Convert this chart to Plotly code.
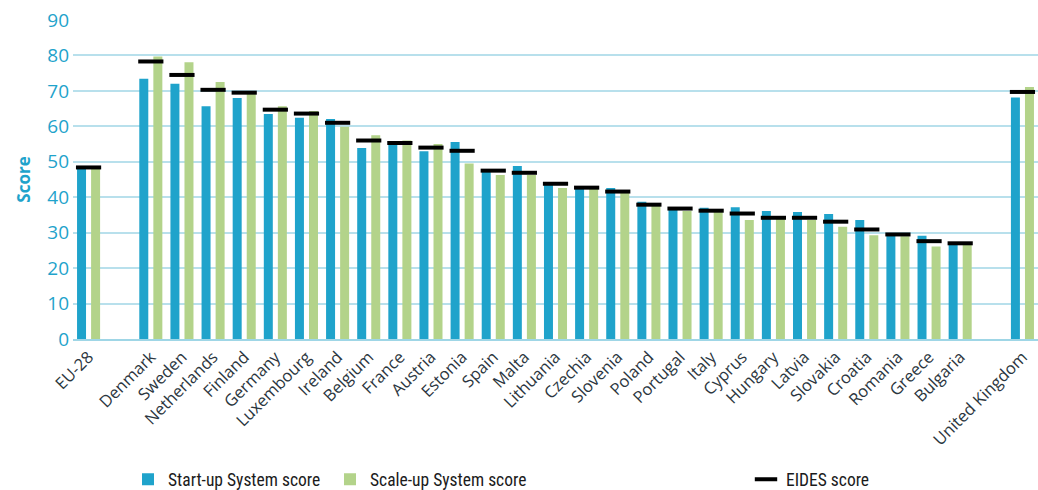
import plotly.graph_objects as go

categories = ["EU-28", " ", "Denmark", "Sweden", "Netherlands", "Finland", "Germany", "Luxembourg",
              "Ireland", "Belgium", "France", "Austria", "Estonia", "Spain", "Malta", "Lithuania",
              "Czechia", "Slovenia", "Poland", "Portugal", "Italy", "Cyprus", "Hungary", "Latvia",
              "Slovakia", "Croatia", "Romania", "Greece", "Bulgaria", "  ", "United Kingdom"]

startup = [48.2, None, 73.4, 72.0, 65.7, 68.0, 63.5, 62.4, 62.1, 53.9, 55.3, 53.0, 55.6, 47.7, 48.8,
           44.0, 42.9, 42.6, 38.7, 36.7, 37.0, 37.2, 36.1, 35.8, 35.3, 33.6, 29.7, 29.1, 27.4, None, 68.1]
scaleup = [48.3, None, 79.7, 78.1, 72.5, 70.0, 65.7, 64.3, 59.9, 57.5, 56.0, 55.0, 49.5, 46.3, 46.3,
           42.6, 43.1, 42.0, 37.9, 36.1, 36.1, 33.6, 34.7, 33.6, 31.7, 29.3, 29.0, 26.1, 27.0, None, 71.1]
eides = [48.4, None, 78.3, 74.5, 70.3, 69.5, 64.7, 63.6, 61.0, 56.0, 55.3, 54.0, 53.1, 47.5, 46.9,
         43.8, 42.7, 41.6, 37.9, 36.8, 36.2, 35.4, 34.2, 34.2, 33.1, 30.9, 29.5, 27.6, 27.0, None, 69.7]

BLUE = "#1fa3cb"
GREEN = "#b3d38a"
TEAL = "#1fa3cb"
DARK = "#2b3640"
LEG_FONT = dict(family="Liberation Sans Narrow, Roboto Condensed, Arial Narrow, sans-serif",
                size=17.5, color="#1b1b1b")

fig = go.Figure()
fig.add_trace(go.Bar(x=categories, y=startup, name="Start-up System score",
                     marker=dict(color=BLUE, line=dict(width=0)), legend="legend"))
fig.add_trace(go.Bar(x=categories, y=scaleup, name="Scale-up System score",
                     marker=dict(color=GREEN, line=dict(width=0)), legend="legend2"))
fig.add_trace(go.Scatter(x=categories, y=eides, name="EIDES score", mode="markers",
                         marker=dict(symbol="line-ew", size=18, color="black",
                                     line=dict(color="black", width=4)),
                         legend="legend3"))

W = 965.0
def lx(px):
    return (px - 73) / W

leg_common = dict(orientation="h", yanchor="middle", y=-0.44, xanchor="left",
                  font=LEG_FONT, bgcolor="rgba(0,0,0,0)", itemwidth=30)

fig.update_layout(
    width=1038, height=490,
    margin=dict(l=73, r=0, t=20, b=151, autoexpand=False),
    paper_bgcolor="white", plot_bgcolor="white",
    barmode="group", bargap=0.097, bargroupgap=0.36,
    font=dict(family="Open Sans, DejaVu Sans, sans-serif"),
    showlegend=True,
    legend=dict(x=lx(128), **leg_common),
    legend2=dict(x=lx(330), **leg_common),
    legend3=dict(x=lx(746), **leg_common),
    xaxis=dict(
        type="category", categoryorder="array", categoryarray=categories,
        range=[-0.5, len(categories) - 0.5], autorange=False,
        tickangle=-45, tickfont=dict(size=16.5, color=DARK, family="Open Sans, DejaVu Sans, sans-serif"),
        showgrid=False, showline=True, linecolor="#9fd6e6", linewidth=2,
        ticks="", ticklen=0, automargin=False,
    ),
    yaxis=dict(
        range=[0, 90], dtick=10, tick0=0,
        tickfont=dict(size=19, color=TEAL, family="Open Sans, DejaVu Sans, sans-serif"),
        ticklabelstandoff=3,
        showgrid=True, gridcolor="#b8e0ec", gridwidth=1.5,
        zeroline=False, showline=False, ticks="", automargin=False,
        title=dict(text="<b>Score</b>", font=dict(size=17, color=TEAL,
                   family="Open Sans, DejaVu Sans, sans-serif"), standoff=12),
    ),
)

fig.write_html("out.html", config={"displayModeBar": False})
with open("out.html", "r", encoding="utf-8") as f:
    html = f.read()
html = html.replace("<head>", "<head><style>html,body{margin:0;padding:0;overflow:hidden;}</style>", 1)
with open("out.html", "w", encoding="utf-8") as f:
    f.write(html)
